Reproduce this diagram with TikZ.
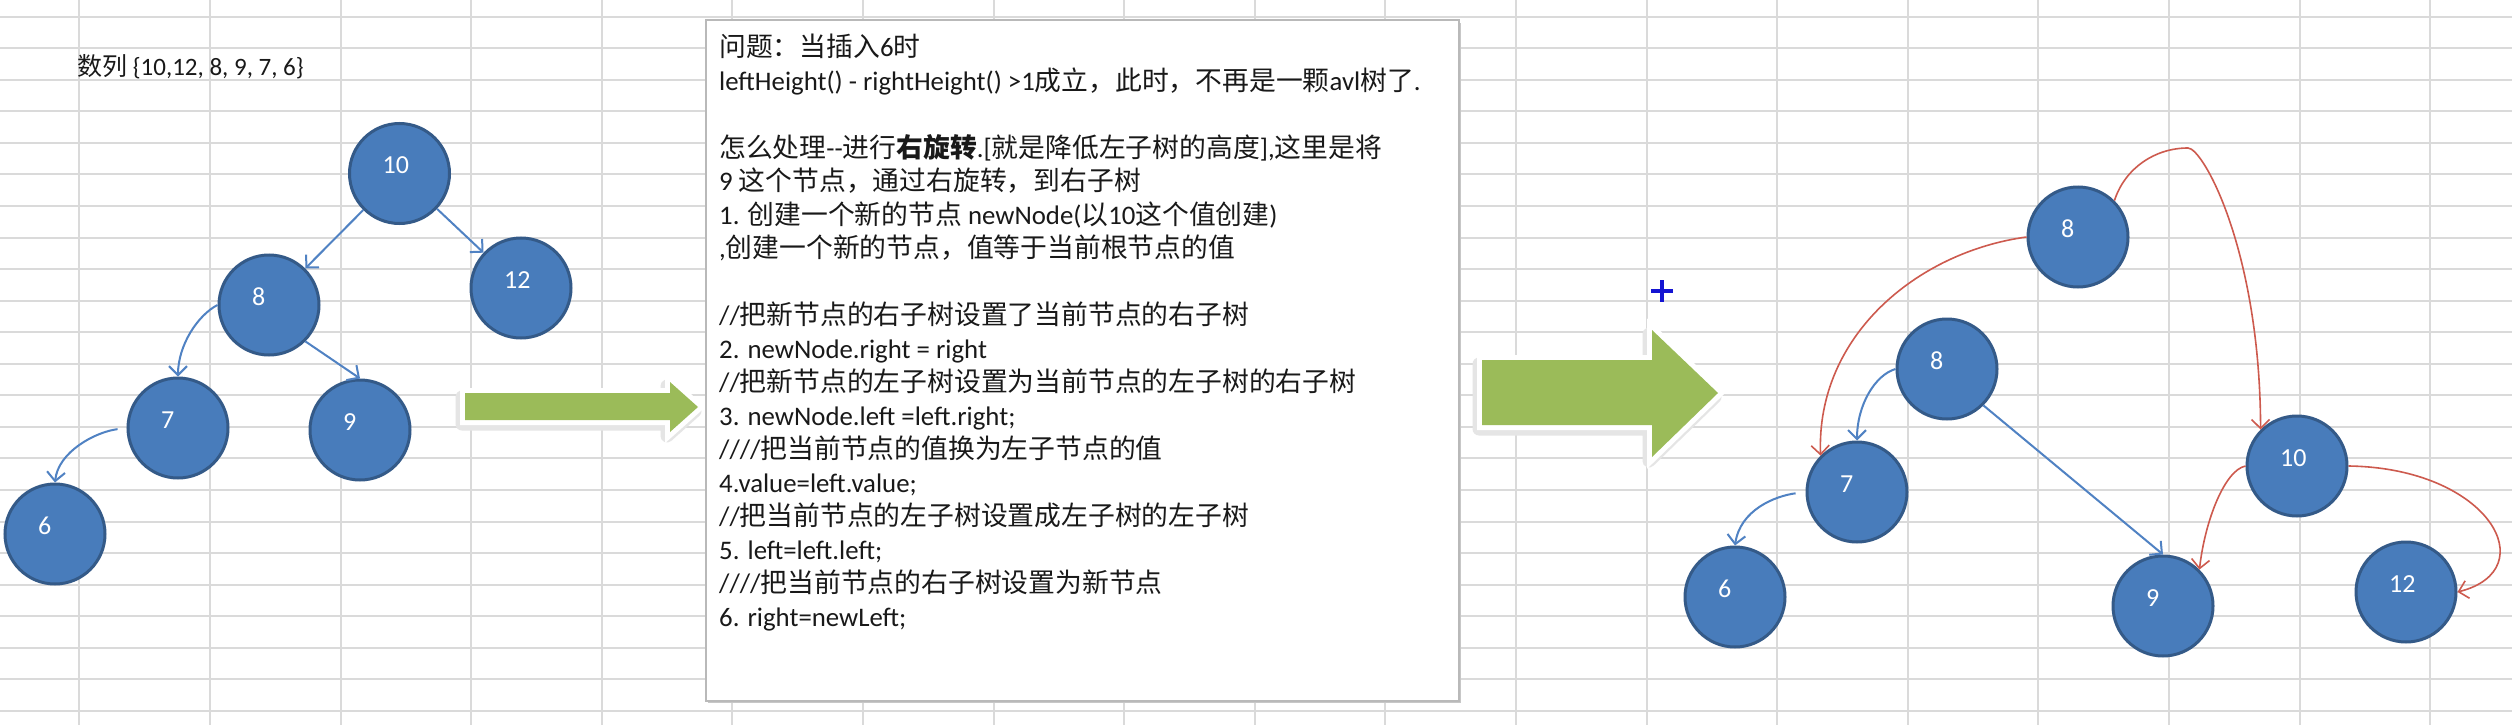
\documentclass[tikz,border=0pt]{standalone}
\usepackage{fontspec}
\setmainfont{Carlito}
\newfontfamily\cjk{Noto Sans CJK SC}
\usetikzlibrary{arrows.meta}
% automatic switch between Latin (Carlito) and CJK (Noto Sans CJK SC)
\XeTeXinterchartokenstate=1
\newXeTeXintercharclass\CJKcls
\newcount\cc
\cc="21 \loop \XeTeXcharclass\cc=0 \ifnum\cc<"7E \advance\cc by 1 \repeat
\cc="4E00 \loop \XeTeXcharclass\cc=\CJKcls \ifnum\cc<"9FFF \advance\cc by 1 \repeat
\cc="FF00 \loop \XeTeXcharclass\cc=\CJKcls \ifnum\cc<"FFEF \advance\cc by 1 \repeat
\XeTeXinterchartoks 0 \CJKcls = {\cjk}
\XeTeXinterchartoks 4095 \CJKcls = {\cjk}
\XeTeXinterchartoks \CJKcls 0 = {\rmfamily}
\XeTeXinterchartoks 4095 0 = {\rmfamily}
\definecolor{nodefill}{RGB}{72,124,187}
\definecolor{nodeborder}{RGB}{52,90,136}
\definecolor{edgeblue}{RGB}{80,130,195}
\definecolor{edgered}{RGB}{205,90,78}
\definecolor{gridgray}{RGB}{218,218,218}
\definecolor{boxgray}{RGB}{185,185,185}
\definecolor{arrowgreen}{RGB}{155,187,89}
\definecolor{plusblue}{RGB}{20,20,210}
\begin{document}
\begin{tikzpicture}[x=1pt,y=-1pt,
  tn/.style={circle, fill=nodefill, draw=nodeborder, line width=3pt, minimum size=100pt, inner sep=0pt},
  tl/.style={anchor=base west, text=white, font=\fontsize{26}{26}\selectfont, inner sep=0pt},
  bl/.style={draw=edgeblue, line width=2pt, -{Straight Barb[length=9pt,width=18pt]}},
  rd/.style={draw=edgered, line width=1.6pt, -{Straight Barb[length=9pt,width=18pt]}},
  gridln/.style={draw=gridgray, line width=2pt},
  txt/.style={anchor=base west, inner sep=0pt, text=black!90, font=\fontsize{26.8}{33.5}\selectfont},
  gshadow/.style={draw=black!10, fill=black!10, line width=13pt, line join=round},
  gglow/.style={draw=white, fill=white, line width=10pt, line join=miter},
  gbody/.style={fill=arrowgreen}
]
\fill[white] (0,0) rectangle (2512,725);
\useasboundingbox (0,0) rectangle (2512,725);
% spreadsheet grid
\foreach \i in {0,...,18} \draw[gridln] ({79.3+130.6*\i},0) -- ({79.3+130.6*\i},725);
\foreach \j in {0,...,22} \draw[gridln] (0,{16.7+31.55*\j}) -- (2512,{16.7+31.55*\j});

% sequence text
\node[txt, font=\fontsize{25}{30}\selectfont] (seq) at (77,76) {数列 \{10,12, 8, 9, 7, 6\}};

% left tree
\node[tn] (a10) at (399.5,173.5) {};
\node[tn] (a12) at (521,288) {};
\node[tn] (a8) at (269,305) {};
\node[tn] (a7) at (178,428) {};
\node[tn] (a9) at (360,430) {};
\node[tn] (a6) at (55,534) {};
\node[tl] (la10) at ([xshift=-17pt]a10.center) {10};
\node[tl] (la12) at ([xshift=-17pt]a12.center) {12};
\node[tl] (la8) at ([xshift=-17pt]a8.center) {8};
\node[tl] (la7) at ([xshift=-17pt]a7.center) {7};
\node[tl] (la9) at ([xshift=-17pt]a9.center) {9};
\node[tl] (la6) at ([xshift=-17pt]a6.center) {6};
\draw[bl] (a10) -- (a8);
\draw[bl] (a10) -- (a12);
\draw[bl] (a8.west) .. controls (198,315) and (178,345) .. (a7.north);
\draw[bl] (a8.-45) -- (a9.north);
\draw[bl, shorten <=9pt] (a7.west) .. controls (95,432) and (58,452) .. (a6.north);

% green arrows
\path[gshadow, shift={(-3,4)}] (465,393) -- (670,393) -- (670,382) -- (698,407) -- (670,432) -- (670,420) -- (465,420) -- cycle;
\path[gglow] (465,393) -- (670,393) -- (670,382) -- (698,407) -- (670,432) -- (670,420) -- (465,420) -- cycle;
\path[gbody] (465,393) -- (670,393) -- (670,382) -- (698,407) -- (670,432) -- (670,420) -- (465,420) -- cycle;

\path[gshadow, shift={(-3,4)}] (1482,360) -- (1652,360) -- (1652,330) -- (1718,393) -- (1652,457) -- (1652,425) -- (1482,425) -- cycle;
\path[gglow] (1482,360) -- (1652,360) -- (1652,330) -- (1718,393) -- (1652,457) -- (1652,425) -- (1482,425) -- cycle;
\path[gbody] (1482,360) -- (1652,360) -- (1652,330) -- (1718,393) -- (1652,457) -- (1652,425) -- (1482,425) -- cycle;

% text box
\fill[black!22] (708,23) rectangle (1461,703);
\node[draw=boxgray, fill=white, line width=2pt, minimum width=753pt, minimum height=681pt, anchor=north west, inner sep=0pt] (box) at (705,19) {};
\node[txt] (t1) at (719,56.5) {问题：当插入6时};
\node[txt] (t2) at (719,90) {leftHeight() - rightHeight() >1成立，此时，不再是一颗avl树了.};
\node[txt] (t4) at (719,157) {怎么处理-{}-进行{\bfseries 右旋转}.[就是降低左子树的高度],这里是将};
\node[txt] (t5) at (719,190.5) {9 这个节点，通过右旋转，到右子树};
\node[txt] (t6) at (719,224) {1. 创建一个新的节点 newNode(以10这个值创建)};
\node[txt] (t7) at (719,257.5) {,创建一个新的节点，值等于当前根节点的值};
\node[txt] (t9) at (719,324.5) {//把新节点的右子树设置了当前节点的右子树};
\node[txt] (t10) at (719,358) {2. newNode.right = right};
\node[txt] (t11) at (719,391.5) {//把新节点的左子树设置为当前节点的左子树的右子树};
\node[txt] (t12) at (719,425) {3. newNode.left =left.right;};
\node[txt] (t13) at (719,458.5) {////把当前节点的值换为左子节点的值};
\node[txt] (t14) at (719,492) {4.value=left.value;};
\node[txt] (t15) at (719,525.5) {//把当前节点的左子树设置成左子树的左子树};
\node[txt] (t16) at (719,559) {5. left=left.left;};
\node[txt] (t17) at (719,592.5) {////把当前节点的右子树设置为新节点};
\node[txt] (t18) at (719,626) {6. right=newLeft;};

% cursor plus
\draw[plusblue, line width=4pt] (1651,291) -- (1673,291) (1662,280) -- (1662,302);

% right tree
\node[tn] (b8t) at (2078,237) {};
\node[tn] (b8) at (1947,369) {};
\node[tn] (b7) at (1857,492) {};
\node[tn] (b6) at (1735,597) {};
\node[tn] (b9) at (2163,606) {};
\node[tn] (b10) at (2297,466) {};
\node[tn] (b12) at (2406,592) {};
\node[tl] (lb8t) at ([xshift=-17pt]b8t.center) {8};
\node[tl] (lb8) at ([xshift=-17pt]b8.center) {8};
\node[tl] (lb7) at ([xshift=-17pt]b7.center) {7};
\node[tl] (lb6) at ([xshift=-17pt]b6.center) {6};
\node[tl] (lb9) at ([xshift=-17pt]b9.center) {9};
\node[tl] (lb10) at ([xshift=-17pt]b10.center) {10};
\node[tl] (lb12) at ([xshift=-17pt]b12.center) {12};
\draw[rd] (b8t.west) .. controls (1917,252) and (1816,336) .. (b7.135);
\draw[rd] (b8t.45) .. controls (2125,168) and (2155,148) .. (2188,148) .. controls (2203,148) and (2260,250) .. (b10.135);
\draw[bl] (b8.west) .. controls (1875,375) and (1857,405) .. (b7.north);
\draw[bl] (b8.-45) -- (b9.north);
\draw[bl, shorten <=10pt] (b7.west) .. controls (1775,496) and (1740,510) .. (b6.north);
\draw[rd] (b10.west) .. controls (2225,470) and (2205,520) .. (b9.45);
\draw[rd] (b10.east) .. controls (2490,468) and (2545,570) .. (b12.east);
\end{tikzpicture}
\end{document}
